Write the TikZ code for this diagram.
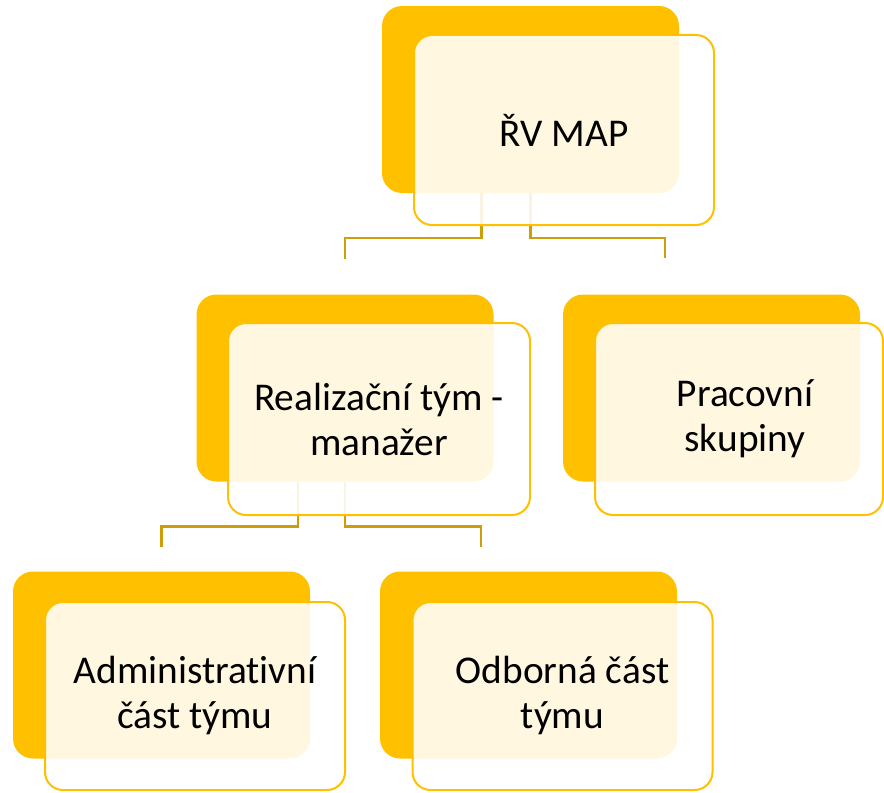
\documentclass[tikz,border=0pt]{standalone}
\usepackage{fontspec}
\setmainfont[Ligatures=NoCommon]{Carlito}
\definecolor{gold}{RGB}{255,192,0}
\definecolor{conncol}{RGB}{206,158,10}
\begin{document}
\begin{tikzpicture}[x=0.75pt,y=-0.75pt,
  backbox/.style={fill=gold, rounded corners=15pt, minimum width=222.75pt, minimum height=140.25pt, inner sep=0pt, outer sep=0pt},
  frontbox/.style={draw=gold, line width=1.5pt, fill=white, fill opacity=0.88, text opacity=1, rounded corners=13.5pt, minimum width=225pt, minimum height=142.5pt, inner sep=0pt, outer sep=0pt, align=center, font=\fontsize{29.5}{33.75}\selectfont, text=black},
  conn/.style={draw=conncol, line width=2pt}]
\useasboundingbox (0,0) rectangle (884,792);
% back boxes
\node[backbox] (tb)  at (530.5,99.5) {};
\node[backbox] (mlb) at (345,388) {};
\node[backbox] (mrb) at (711.5,388) {};
\node[backbox] (blb) at (161.5,665) {};
\node[backbox] (brb) at (528.5,665) {};
% connector free ends
\coordinate (j1) at ([yshift=27pt]mlb.north);
\coordinate (j2) at (665,258);
\coordinate (j3) at ([yshift=18.75pt]blb.north);
\coordinate (j4) at (481,547);
% connectors
\draw[conn] ([xshift=-36.75pt]tb.south) -- ++(0,45) -| (j1);
\draw[conn] (tb.south) -- ++(0,45) -| (j2);
\draw[conn] ([xshift=-35.25pt]mlb.south) -- ++(0,45) -| (j3);
\draw[conn] (mlb.south) -- ++(0,45) -| (j4);
% front boxes
\node[frontbox] (tf)  at (564,130) {ŘV MAP};
\node[frontbox, minimum width=226.5pt, minimum height=144pt] (mlf) at (379,419) {Realizační tým -\\manažer};
\node[frontbox, minimum width=216pt, minimum height=144pt] (mrf) at (739,419) {};
\node[font=\fontsize{29.5}{33.75}\selectfont, align=center, inner sep=0pt] (mrt) at (745,419) {Pracovní\\skupiny};
\node[frontbox, minimum height=141pt] (blf) at (195,696) {Administrativní\\část týmu};
\node[frontbox, minimum height=141pt] (brf) at (562.5,696) {Odborná část\\týmu};
\end{tikzpicture}
\end{document}
